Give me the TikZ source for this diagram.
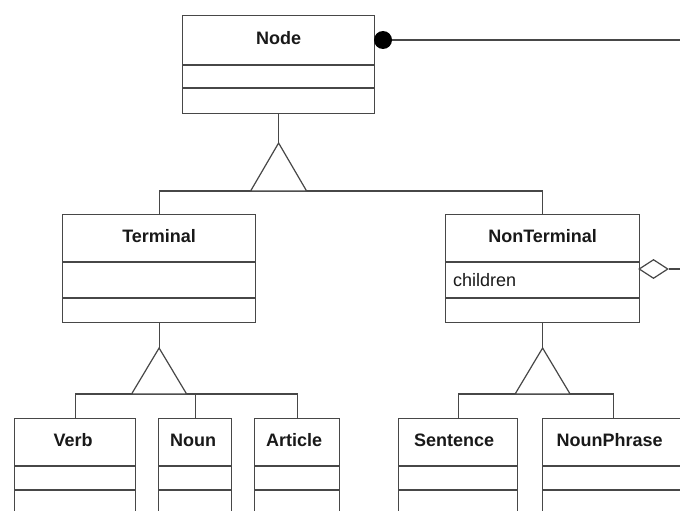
\documentclass[tikz,border=0pt]{standalone}
\usepackage{fontspec}
\setmainfont{Liberation Sans}
\usetikzlibrary{shapes.geometric,calc}
\tikzset{
  ln/.style={draw=black!72, line width=1.2pt},
  clsbox/.style={ln, rectangle, fill=white, inner sep=0pt, anchor=north west},
  ttl/.style={font=\fontsize{18}{20}\selectfont\bfseries, inner sep=0pt, text=black!90},
  attr/.style={font=\fontsize{18}{20}\selectfont, inner sep=0pt, text=black!90},
}
\newcommand\umlcls[7]{%
  \node[clsbox, minimum width=#4pt, minimum height=#5pt] (#1) at (#2,#3) {};
  \draw[ln] ([yshift=-#6pt]#1.north west) -- ([yshift=-#6pt]#1.north east);
  \draw[ln] ([yshift=-#7pt]#1.north west) -- ([yshift=-#7pt]#1.north east);
}
\begin{document}
\begin{tikzpicture}[x=1pt,y=-1pt]
\path[use as bounding box, clip] (0,0) rectangle (680,511);
\fill[white] (0,0) rectangle (680,511);

% classes
\umlcls{node}{182}{15}{192}{98}{50}{73}
\umlcls{term}{62}{214}{193}{108}{48}{84}
\umlcls{nonterm}{445}{214}{194}{108}{48}{84}
\umlcls{verb}{14}{418}{121}{120}{48}{72}
\umlcls{noun}{158}{418}{73}{120}{48}{72}
\umlcls{article}{254}{418}{85}{120}{48}{72}
\umlcls{sentence}{398}{418}{119}{120}{48}{72}
\umlcls{np}{542}{418}{142}{120}{48}{72}

% titles
\node[ttl] (tnode) at ($(node.north)+(0,23)$) {Node};
\node[ttl] (tterm) at ($(term.north)+(0,22)$) {Terminal};
\node[ttl] (tnonterm) at ($(nonterm.north)+(0,22)$) {NonTerminal};
\node[ttl] (tverb) at ($(verb.north)+(-2,22)$) {Verb};
\node[ttl] (tnoun) at ($(noun.north)+(-2,22)$) {Noun};
\node[ttl] (tarticle) at ($(article.north)+(-3,22)$) {Article};
\node[ttl] (tsentence) at ($(sentence.north)+(-4,22)$) {Sentence};
\node[ttl] (tnp) at ($(np.north)+(-4,22)$) {NounPhrase};
\node[attr, anchor=west] (children) at (453,280) {children};

% generalization Node <- Terminal, NonTerminal
\coordinate (g1) at (node.south |- 0,143);
\coordinate (g1l) at ($(g1)+(-28,48)$);
\coordinate (g1r) at ($(g1)+(28,48)$);
\draw[ln] (node.south) -- (g1);
\draw[ln] (term.north) |- (nonterm.north |- g1l) -- (nonterm.north);
\draw[ln, fill=white] (g1) -- (g1l) -- (g1r) -- cycle;

% generalization Terminal <- Verb, Noun, Article
\coordinate (g2) at (term.south |- 0,348);
\coordinate (g2l) at ($(g2)+(-27.5,46)$);
\coordinate (g2r) at ($(g2)+(27.5,46)$);
\draw[ln] (term.south) -- (g2);
\draw[ln] (verb.north) |- (article.north |- g2l) -- (article.north);
\draw[ln] (noun.north) -- (noun.north |- g2l);
\draw[ln, fill=white] (g2) -- (g2l) -- (g2r) -- cycle;

% generalization NonTerminal <- Sentence, NounPhrase
\coordinate (g3) at (nonterm.south |- 0,348);
\coordinate (g3l) at ($(g3)+(-27.5,46)$);
\coordinate (g3r) at ($(g3)+(27.5,46)$);
\draw[ln] (nonterm.south) -- (g3);
\draw[ln] (sentence.north) |- (np.north |- g3l) -- (np.north);
\draw[ln, fill=white] (g3) -- (g3l) -- (g3r) -- cycle;

% composition from Node
\node[circle, fill=black, inner sep=0pt, minimum size=18pt] (dot) at (383,40) {};
\coordinate (dotend) at (690,40);
\draw[ln] (dot) -- (dotend);

% aggregation from NonTerminal
\node[diamond, ln, fill=white, inner sep=0pt, minimum width=29pt, minimum height=19pt] (dia) at (653.5,269) {};
\coordinate (diaend) at (690,269);
\draw[ln] (dia.east) -- (diaend);
\end{tikzpicture}
\end{document}
